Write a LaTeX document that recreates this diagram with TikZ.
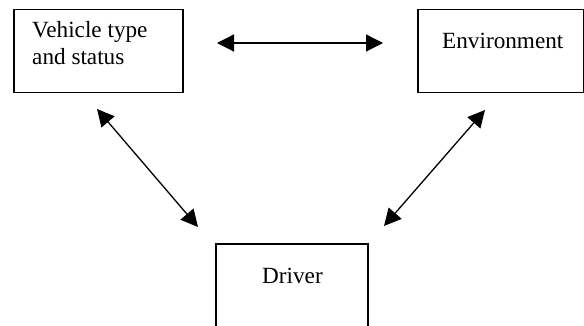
\documentclass[tikz,border=0pt]{standalone}
\usepackage{fontspec}
\setmainfont{Liberation Serif}
\usetikzlibrary{arrows.meta}
\begin{document}
\begin{tikzpicture}[x=1pt,y=-1pt,
  boxst/.style={draw=black,line width=1.5pt,minimum width=#1,inner sep=0pt,anchor=north west},
  lbl/.style={anchor=base west,inner sep=0pt,font=\fontsize{23.2}{27}\selectfont},
  arr/.style={line width=1.3pt,{Triangle[length=17pt,width=17pt]}-{Triangle[length=17pt,width=17pt]}}]
\clip (0,0) rectangle (584,326);
\useasboundingbox (0,0) rectangle (584,326);
\node[boxst=169pt,minimum height=83pt] (veh) at (13,9) {};
\node[boxst=166pt,minimum height=83pt] (env) at (417,9) {};
\node[boxst=152pt,minimum height=86pt] (drv) at (215,243) {};
\node[lbl] (t1) at (32,38) {Vehicle type};
\node[lbl] (t2) at (32,65) {and status};
\node[lbl] (t3) at (442,49) {Environment};
\node[lbl] (t4) at (262,283) {Driver};
\coordinate (h1) at (217,43);
\coordinate (h2) at (383,43);
\coordinate (l1) at (97,109);
\coordinate (l2) at (198,227);
\coordinate (r1) at (485,110);
\coordinate (r2) at (384,226);
\draw[arr] (h1) -- (h2);
\draw[arr] (l1) -- (l2);
\draw[arr] (r1) -- (r2);
\end{tikzpicture}
\end{document}
